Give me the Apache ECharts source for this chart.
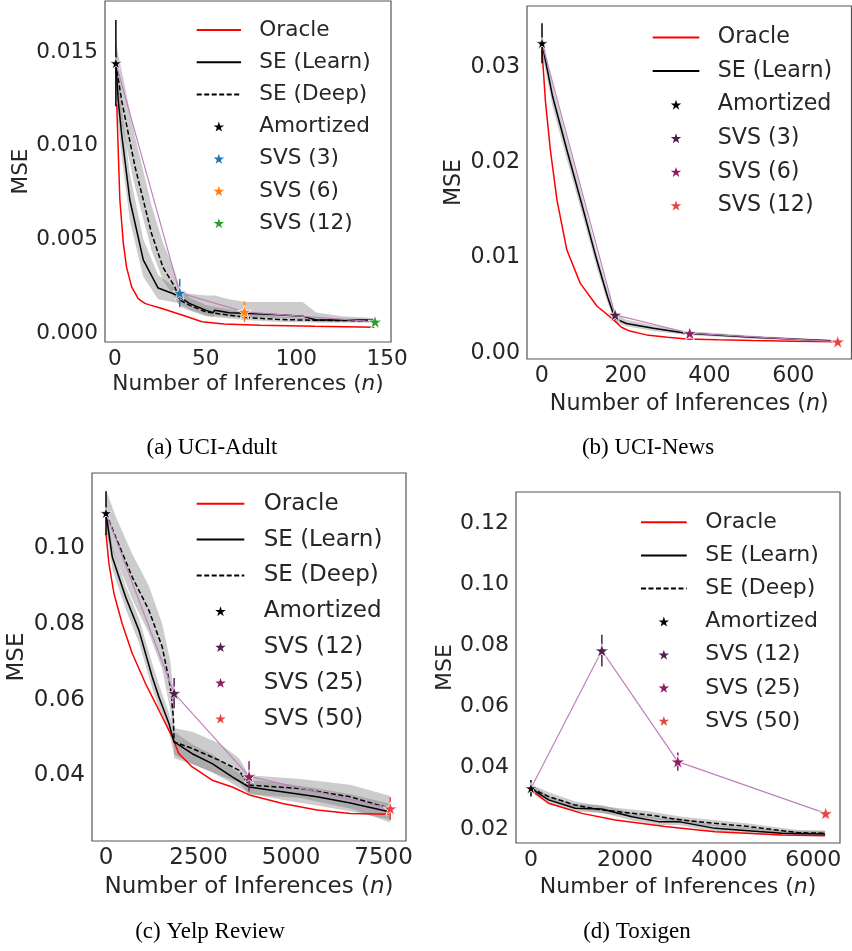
<!DOCTYPE html>
<html>
<head>
<meta charset="utf-8">
<script src="https://cdn.jsdelivr.net/npm/echarts@6/dist/echarts.min.js"></script>
<style>
  html, body { margin: 0; padding: 0; background: #fff; }
  #main { width: 852px; height: 951px; }
</style>
</head>
<body>
<div id="main"></div>
<script>
// ---- (a) UCI-Adult ----
var adultOracleX = [1, 1.5, 2.7, 4.6, 6.4, 9.2, 12.8, 16.5, 19, 25, 37, 48, 60, 80, 110, 143];
var adultOracleY = [0.0122, 0.0106, 0.0071, 0.0048, 0.0035, 0.00246, 0.00184, 0.00158, 0.0015, 0.00133, 0.00096, 0.0006, 0.00048, 0.00042, 0.00036, 0.00031];
var adultLearnX = [0.5, 1.8, 3.7, 8.2, 15.6, 23.8, 34.8, 41, 50, 54, 55, 63, 72, 90, 103.5, 111, 125, 143];
var adultLearnY = [0.0144, 0.0124, 0.0106, 0.0071, 0.0039, 0.0024, 0.0020, 0.00158, 0.00122, 0.00108, 0.00122, 0.00108, 0.00105, 0.00098, 0.0009, 0.00069, 0.00069, 0.00069];
var adultLearnLo = [0.0125, 0.0112, 0.0094, 0.0060, 0.0030, 0.0018, 0.0016, 0.00125, 0.00095, 0.00085, 0.00095, 0.00085, 0.00085, 0.0008, 0.00075, 0.00058, 0.00058, 0.0006];
var adultLearnHi = [0.0160, 0.0140, 0.0120, 0.0085, 0.0050, 0.0031, 0.0023, 0.0021, 0.0020, 0.0020, 0.0020, 0.0018, 0.00166, 0.00166, 0.00166, 0.0011, 0.0009, 0.0008];
var adultDeepX = [0.5, 3.7, 11, 20.2, 26.5, 33, 35.7, 41, 50, 72, 89, 103.5, 143];
var adultDeepY = [0.0144, 0.0124, 0.0089, 0.0053, 0.0035, 0.00246, 0.00176, 0.00149, 0.00113, 0.00083, 0.00073, 0.00069, 0.00065];
var adultDeepLo = [0.0135, 0.0112, 0.0078, 0.0044, 0.0028, 0.0019, 0.0014, 0.0012, 0.0009, 0.0007, 0.0006, 0.00058, 0.00055];
var adultDeepHi = [0.0155, 0.0140, 0.0105, 0.0068, 0.0048, 0.0033, 0.0024, 0.0019, 0.0015, 0.0011, 0.0009, 0.0008, 0.00075];
var adultPtNames = ['Amortized', 'SVS (3)', 'SVS (6)', 'SVS (12)'];
var adultPtX = [0.5, 35.7, 71.4, 143.4];
var adultPtY = [0.0144, 0.00214, 0.00113, 0.0006];
var adultPtErr = [0.0023, 0.00075, 0.00055, 0.0001];
var adultPtColors = ['#000000', '#1f77b4', '#ff7f0e', '#2ca02c'];
var adultXTicks = [0, 50, 100, 150];
var adultYTicks = [0, 0.005, 0.010, 0.015];

// ---- (b) UCI-News ----
var newsOracleX = [0.7, 8.7, 20.6, 36.5, 60, 92, 132, 171, 190, 210, 250, 300, 345, 420, 503, 600, 705];
var newsOracleY = [0.0318, 0.0265, 0.0213, 0.016, 0.0108, 0.0073, 0.0049, 0.0035, 0.0027, 0.0023, 0.0019, 0.00165, 0.00148, 0.00138, 0.0013, 0.00124, 0.00119];
var newsLearnX = [0.7, 26, 60, 95, 131, 157, 175, 202, 266, 345, 504, 705];
var newsLearnY = [0.0325, 0.0269, 0.0213, 0.0157, 0.0098, 0.0059, 0.0036, 0.0031, 0.0026, 0.00207, 0.00165, 0.00125];
var newsLearnLo = [0.0315, 0.0258, 0.0203, 0.0148, 0.0090, 0.0053, 0.0032, 0.0028, 0.0023, 0.0019, 0.0015, 0.00115];
var newsLearnHi = [0.0335, 0.0280, 0.0224, 0.0167, 0.0106, 0.0066, 0.0041, 0.0035, 0.0029, 0.0023, 0.0018, 0.00135];
var newsPtNames = ['Amortized', 'SVS (3)', 'SVS (6)', 'SVS (12)'];
var newsPtX = [0.7, 175, 353, 706];
var newsPtY = [0.0325, 0.0040, 0.00207, 0.00119];
var newsPtErr = [0.0021, 0.0003, 0.0002, 0.0001];
var newsPtColors = ['#000000', '#541d4f', '#8e1d62', '#e8443f'];
var newsXTicks = [0, 200, 400, 600];
var newsYTicks = [0, 0.01, 0.02, 0.03];

// ---- (c) Yelp Review ----
var yelpOracleX = [0, 80, 216, 440, 710, 1070, 1430, 1790, 1970, 2330, 2870, 3410, 3900, 4800, 5700, 6600, 7640];
var yelpOracleY = [0.1039, 0.0959, 0.088, 0.080, 0.0722, 0.0642, 0.0572, 0.0501, 0.0457, 0.0422, 0.0387, 0.0369, 0.0347, 0.0325, 0.0308, 0.0299, 0.0297];
var yelpLearnX = [0, 170, 530, 890, 1250, 1430, 1700, 1840, 2330, 2870, 3410, 3865, 4800, 5700, 6600, 7680];
var yelpLearnY = [0.1093, 0.0977, 0.0871, 0.0783, 0.066, 0.0607, 0.0537, 0.0488, 0.0457, 0.0431, 0.0396, 0.0369, 0.0356, 0.0343, 0.0327, 0.0303];
var yelpLearnLo = [0.1060, 0.0945, 0.0840, 0.0750, 0.0630, 0.0580, 0.0515, 0.0455, 0.0430, 0.0408, 0.0378, 0.0352, 0.0335, 0.0320, 0.0305, 0.0283];
var yelpLearnHi = [0.1120, 0.1005, 0.0900, 0.0815, 0.0695, 0.0640, 0.0565, 0.0515, 0.0482, 0.0455, 0.0418, 0.0388, 0.0378, 0.0366, 0.0350, 0.0325];
var yelpDeepX = [0, 260, 710, 1160, 1520, 1740, 1820, 1840, 2330, 3055, 3595, 3865, 5250, 6600, 7680];
var yelpDeepY = [0.1093, 0.103, 0.0924, 0.0836, 0.0739, 0.0633, 0.0554, 0.0488, 0.0471, 0.044, 0.0413, 0.0374, 0.0365, 0.0343, 0.0312];
var yelpDeepLo = [0.1040, 0.0975, 0.0865, 0.0775, 0.0680, 0.0570, 0.0500, 0.0445, 0.0430, 0.0400, 0.0380, 0.0350, 0.0340, 0.0312, 0.0275];
var yelpDeepHi = [0.1155, 0.1085, 0.0985, 0.0900, 0.0800, 0.0700, 0.0620, 0.0525, 0.0515, 0.0485, 0.0445, 0.0400, 0.0390, 0.0375, 0.0345];
var yelpPtNames = ['Amortized', 'SVS (12)', 'SVS (25)', 'SVS (50)'];
var yelpPtX = [0, 1840, 3865, 7680];
var yelpPtY = [0.1093, 0.0617, 0.0397, 0.0312];
var yelpPtErr = [0.0058, 0.004, 0.004, 0.003];
var yelpPtColors = ['#000000', '#541d4f', '#8e1d62', '#e8443f'];
var yelpXTicks = [0, 2500, 5000, 7500];
var yelpYTicks = [0.04, 0.06, 0.08, 0.10];

// ---- (d) Toxigen ----
var toxOracleX = [0, 374, 1083, 1790, 2851, 3913, 5330, 6250];
var toxOracleY = [0.0327, 0.0284, 0.0251, 0.0229, 0.0208, 0.0191, 0.018, 0.0178];
var toxLearnX = [0, 374, 940, 1507, 2144, 2710, 3134, 3913, 5330, 6250];
var toxLearnY = [0.0333, 0.0295, 0.0268, 0.0265, 0.024, 0.0224, 0.0224, 0.0202, 0.0186, 0.0184];
var toxLearnLo = [0.0320, 0.0282, 0.0256, 0.0253, 0.0228, 0.0213, 0.0213, 0.0192, 0.0178, 0.0176];
var toxLearnHi = [0.0346, 0.0308, 0.0281, 0.0278, 0.0252, 0.0236, 0.0236, 0.0213, 0.0195, 0.0193];
var toxDeepX = [0, 374, 940, 1507, 2497, 3206, 4620, 5680, 6250];
var toxDeepY = [0.0333, 0.0306, 0.0278, 0.0262, 0.0246, 0.0229, 0.0208, 0.0188, 0.0186];
var toxDeepLo = [0.0320, 0.0293, 0.0266, 0.0251, 0.0235, 0.0219, 0.0199, 0.0180, 0.0178];
var toxDeepHi = [0.0346, 0.0320, 0.0290, 0.0274, 0.0258, 0.0240, 0.0218, 0.0197, 0.0195];
var toxPtNames = ['Amortized', 'SVS (12)', 'SVS (25)', 'SVS (50)'];
var toxPtX = [0, 1507, 3120, 6263];
var toxPtY = [0.0333, 0.0783, 0.042, 0.0251];
var toxPtErr = [0.0027, 0.0052, 0.003, 0.0015];
var toxPtColors = ['#000000', '#541d4f', '#8e1d62', '#e8443f'];
var toxXTicks = [0, 2000, 4000, 6000];
var toxYTicks = [0.02, 0.04, 0.06, 0.08, 0.10, 0.12];

var captions = ['(a) UCI-Adult', '(b) UCI-News', '(c) Yelp Review', '(d) Toxigen'];

var TXT = '#262626';
var FONT = 'DejaVu Sans';
var STAR = 'path://M0,-100L22.45,-30.9L95.1,-30.9L36.3,11.8L58.8,80.9L0,38.2L-58.8,80.9L-36.3,11.8L-95.1,-30.9L-22.45,-30.9Z';
var BAND = 'rgba(110,110,110,0.35)';
var NOFILL = 'rgba(0,0,0,0)';

function pts(xs, ys) {
    return xs.map(function(x, i) { return [x, ys[i]]; });
}

function lineS(g, name, xs, ys, color, dashed) {
    return {
        name: name, type: 'line', xAxisIndex: g, yAxisIndex: g, z: 3,
        data: pts(xs, ys), symbol: 'none', showSymbol: false, animation: false,
        lineStyle: { color: color, width: 1.5, type: dashed ? [5, 2.5] : 'solid' },
        itemStyle: { color: color }
    };
}

function bandS(g, xs, lo, hi) {
    return {
        type: 'custom', xAxisIndex: g, yAxisIndex: g, z: 1, silent: true, animation: false,
        data: [[xs[0], lo[0]]],
        renderItem: function(params, api) {
            var p = [];
            for (var i = 0; i < xs.length; i++) p.push(api.coord([xs[i], hi[i]]));
            for (var j = xs.length - 1; j >= 0; j--) p.push(api.coord([xs[j], lo[j]]));
            return { type: 'polygon', shape: { points: p }, style: { fill: BAND } };
        }
    };
}

function errS(g, xs, ys, es, colors) {
    return {
        type: 'custom', xAxisIndex: g, yAxisIndex: g, z: 5, silent: true, animation: false,
        data: xs.map(function(x, i) { return [x, ys[i], es[i], i]; }),
        renderItem: function(params, api) {
            var a = api.coord([api.value(0), api.value(1) + api.value(2)]);
            var b = api.coord([api.value(0), api.value(1) - api.value(2)]);
            return {
                type: 'line', shape: { x1: a[0], y1: a[1], x2: b[0], y2: b[1] },
                style: { stroke: colors[api.value(3)], lineWidth: 1.5 }
            };
        }
    };
}

function starS(g, name, x, y, color, size) {
    return {
        name: name, type: 'scatter', xAxisIndex: g, yAxisIndex: g, z: 6, animation: false,
        data: [[x, y]], symbol: STAR, symbolSize: size, symbolKeepAspect: true,
        itemStyle: { color: color, borderColor: '#fff', borderWidth: 0.8, opacity: 1 }
    };
}

function xAx(g, min, max, ticks, fs, gap) {
    return {
        type: 'value', gridIndex: g, min: min, max: max,
        name: 'Number of Inferences ({i|n})', nameLocation: 'middle', nameGap: gap,
        nameTextStyle: {
            fontSize: fs, color: TXT, fontFamily: FONT,
            rich: { i: { fontSize: fs, color: TXT, fontFamily: FONT, fontStyle: 'italic' } }
        },
        axisLine: { show: false }, axisTick: { show: false }, splitLine: { show: false },
        axisLabel: {
            customValues: ticks, fontSize: fs, color: TXT, fontFamily: FONT, margin: 6,
            formatter: function(v) { return String(v); }
        }
    };
}

function yAx(g, min, max, ticks, fs, gap, dec) {
    return {
        type: 'value', gridIndex: g, min: min, max: max,
        name: 'MSE', nameLocation: 'middle', nameGap: gap, nameRotate: 90,
        nameTextStyle: { fontSize: fs, color: TXT, fontFamily: FONT },
        axisLine: { show: false }, axisTick: { show: false }, splitLine: { show: false },
        axisLabel: {
            customValues: ticks, fontSize: fs, color: TXT, fontFamily: FONT, margin: 7,
            formatter: function(v) { return v.toFixed(dec); }
        }
    };
}

function legendFor(items, left, centerY, itemW, gap, pad, fs) {
    return {
        data: items, orient: 'vertical', left: left, top: centerY - 11, padding: 0,
        itemWidth: itemW, itemHeight: 10, itemGap: gap, selectedMode: false,
        formatter: function(n) { return n.split('|')[1]; },
        textStyle: { fontSize: fs, color: TXT, fontFamily: FONT, lineHeight: 22, padding: [0, 0, 0, pad] }
    };
}

var series = [];

function addPlot(g, k, d) {
    var items = [];
    function lineItem(n) {
        items.push({ name: n, itemStyle: { color: NOFILL, borderColor: NOFILL, borderWidth: 0 } });
    }
    if (d.learnLo) series.push(bandS(g, d.learnX, d.learnLo, d.learnHi));
    if (d.deepLo) series.push(bandS(g, d.deepX, d.deepLo, d.deepHi));
    series.push(lineS(g, k + '|Oracle', d.oracleX, d.oracleY, '#ff0000', false));
    lineItem(k + '|Oracle');
    series.push(lineS(g, k + '|SE (Learn)', d.learnX, d.learnY, '#000000', false));
    lineItem(k + '|SE (Learn)');
    if (d.deepX) {
        series.push(lineS(g, k + '|SE (Deep)', d.deepX, d.deepY, '#000000', true));
        lineItem(k + '|SE (Deep)');
    }
    var pl = lineS(g, k + '|svsline', d.ptX, d.ptY, '#c080c0', false);
    pl.lineStyle.width = 1.2;
    series.push(pl);
    series.push(errS(g, d.ptX, d.ptY, d.ptErr, d.ptColors));
    for (var i = 0; i < d.ptNames.length; i++) {
        var n = k + '|' + d.ptNames[i];
        series.push(starS(g, n, d.ptX[i], d.ptY[i], d.ptColors[i], i === 0 ? 12 : 14));
        items.push({ name: n, icon: STAR, itemStyle: { color: d.ptColors[i], borderWidth: 0 } });
    }
    return items;
}

var nA = addPlot(0, 'a', {
    oracleX: adultOracleX, oracleY: adultOracleY,
    learnX: adultLearnX, learnY: adultLearnY, learnLo: adultLearnLo, learnHi: adultLearnHi,
    deepX: adultDeepX, deepY: adultDeepY, deepLo: adultDeepLo, deepHi: adultDeepHi,
    ptNames: adultPtNames, ptX: adultPtX, ptY: adultPtY, ptErr: adultPtErr, ptColors: adultPtColors
});
var nB = addPlot(1, 'b', {
    oracleX: newsOracleX, oracleY: newsOracleY,
    learnX: newsLearnX, learnY: newsLearnY, learnLo: newsLearnLo, learnHi: newsLearnHi,
    ptNames: newsPtNames, ptX: newsPtX, ptY: newsPtY, ptErr: newsPtErr, ptColors: newsPtColors
});
var nC = addPlot(2, 'c', {
    oracleX: yelpOracleX, oracleY: yelpOracleY,
    learnX: yelpLearnX, learnY: yelpLearnY, learnLo: yelpLearnLo, learnHi: yelpLearnHi,
    deepX: yelpDeepX, deepY: yelpDeepY, deepLo: yelpDeepLo, deepHi: yelpDeepHi,
    ptNames: yelpPtNames, ptX: yelpPtX, ptY: yelpPtY, ptErr: yelpPtErr, ptColors: yelpPtColors
});
var nD = addPlot(3, 'd', {
    oracleX: toxOracleX, oracleY: toxOracleY,
    learnX: toxLearnX, learnY: toxLearnY, learnLo: toxLearnLo, learnHi: toxLearnHi,
    deepX: toxDeepX, deepY: toxDeepY, deepLo: toxDeepLo, deepHi: toxDeepHi,
    ptNames: toxPtNames, ptX: toxPtX, ptY: toxPtY, ptErr: toxPtErr, ptColors: toxPtColors
});

var gridStyle = { show: true, borderColor: '#555', borderWidth: 1.2, backgroundColor: '#fff' };
var capFont = '23px "Liberation Serif"';

var chart = echarts.init(document.getElementById('main'), null, { renderer: 'canvas' });
chart.setOption({
    animation: false,
    backgroundColor: '#fff',
    grid: [
        Object.assign({ left: 105, top: 1, width: 286, height: 341 }, gridStyle),
        Object.assign({ left: 527, top: 6, width: 324.5, height: 353 }, gridStyle),
        Object.assign({ left: 92, top: 473, width: 314, height: 368 }, gridStyle),
        Object.assign({ left: 516, top: 492, width: 324, height: 351 }, gridStyle)
    ],
    xAxis: [
        xAx(0, -5.5, 152.2, adultXTicks, 21.6, 31),
        xAx(1, -35.1, 738.8, newsXTicks, 22.2, 34),
        xAx(2, -378, 8105, yelpXTicks, 23, 34.5),
        xAx(3, -318, 6567, toxXTicks, 22, 33)
    ],
    yAxis: [
        yAx(0, -0.00048, 0.01772, adultYTicks, 21.6, 68, 3),
        yAx(1, -0.00063, 0.0364, newsYTicks, 22.2, 62, 2),
        yAx(2, 0.02263, 0.1199, yelpYTicks, 23, 63.5, 2),
        yAx(3, 0.01542, 0.1301, toxYTicks, 22, 60, 2)
    ],
    legend: [
        legendFor(nA, 195.7, 30, 44.3, 10.2, 13.3, 21.6),
        legendFor(nB, 651.7, 37.5, 46.6, 11.6, 13.4, 22.2),
        legendFor(nC, 195.7, 503.3, 47.6, 12.8, 14.4, 23),
        legendFor(nD, 640, 522.3, 45.7, 11.1, 13.6, 22)
    ],
    graphic: [
        { type: 'text', x: 212, y: 448, style: { text: captions[0], font: capFont, fill: '#000', align: 'center', verticalAlign: 'middle' } },
        { type: 'text', x: 648, y: 448, style: { text: captions[1], font: capFont, fill: '#000', align: 'center', verticalAlign: 'middle' } },
        { type: 'text', x: 210, y: 932, style: { text: captions[2], font: capFont, fill: '#000', align: 'center', verticalAlign: 'middle' } },
        { type: 'text', x: 637, y: 932, style: { text: captions[3], font: capFont, fill: '#000', align: 'center', verticalAlign: 'middle' } }
    ],
    series: series
});
</script>
</body>
</html>
